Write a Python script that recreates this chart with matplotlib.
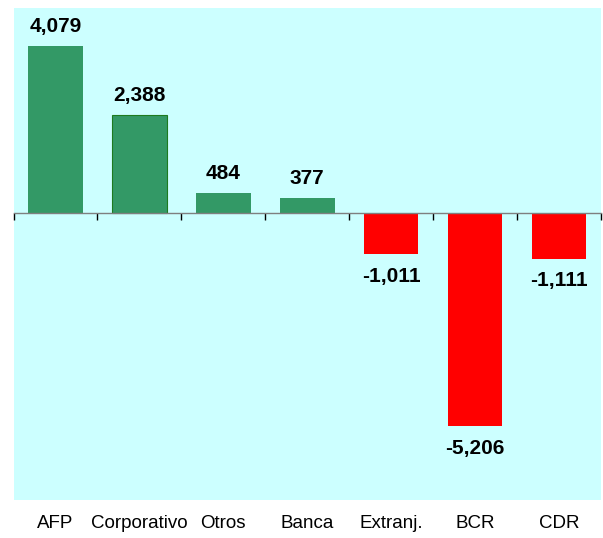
import matplotlib
matplotlib.use("Agg")
import matplotlib.pyplot as plt
import matplotlib.transforms as mtransforms
import numpy as np

categories = ["AFP", "Corporativo", "Otros", "Banca", "Extranj.", "BCR", "CDR"]
values = [4079, 2388, 484, 377, -1011, -5206, -1111]

plt.rcParams['font.family'] = ['Liberation Sans', 'DejaVu Sans']

fig = plt.figure(figsize=(6.03, 5.38), dpi=100)
ax = fig.add_axes([13.5/603, (538-500)/538, (601-13.5)/603, 492/538])
ax.set_facecolor('#CCFFFF')

x = np.arange(len(categories))
colors = ['#339966' if v >= 0 else '#FF0000' for v in values]
bars = ax.bar(x, values, width=0.65, color=colors, zorder=2)
bars[1].set_edgecolor('#1E7A1E')
bars[1].set_linewidth(0.8)

ax.set_xlim(-0.5, len(categories) - 0.5)
ax.set_ylim(-7000, 5000)

for s in ['top', 'left', 'right']:
    ax.spines[s].set_visible(False)
ax.spines['bottom'].set_position(('data', 0))
ax.spines['bottom'].set_color('#7F7F7F')
ax.spines['bottom'].set_linewidth(1.0)
ax.spines['bottom'].set_zorder(3)
ax.set_yticks([])
ax.set_xticks(np.arange(-0.5, len(categories)), minor=False)
ax.set_xticklabels([])
ax.tick_params(axis='x', direction='out', length=5, width=1, color='#000000')

for xi, v in zip(x, values):
    if v >= 0:
        ax.annotate(f"{v:,}", (xi, v), xytext=(0, 7), textcoords='offset points',
                    ha='center', va='bottom', fontsize=15, fontweight='bold')
    else:
        ax.annotate(f"{v:,}", (xi, v), xytext=(0, -9), textcoords='offset points',
                    ha='center', va='top', fontsize=15, fontweight='bold')

trans = mtransforms.blended_transform_factory(ax.transData, ax.transAxes)
for xi, c in zip(x, categories):
    ax.text(xi, -0.047, c, transform=trans, ha='center', va='center', fontsize=13.5)

fig.savefig("out.png", dpi=100)
